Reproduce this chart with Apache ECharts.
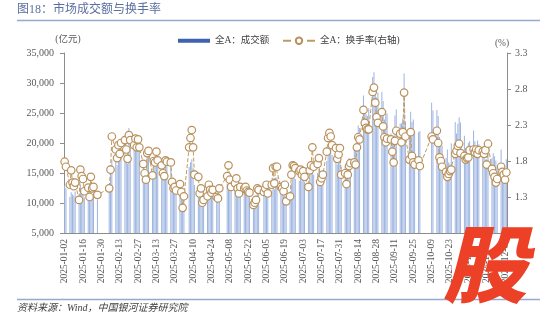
<!DOCTYPE html>
<html><head><meta charset="utf-8">
<script src="https://cdn.jsdelivr.net/npm/echarts@6/dist/echarts.min.js"></script>
<style>html,body{margin:0;padding:0;background:#fff}#c{width:550px;height:322px}</style>
</head><body><div id="c"></div>
<script>
// Non-trading weekdays (exchange holidays)
const holidays = ['01-01','01-28','01-29','01-30','01-31','02-03','02-04','04-04','05-01','05-02','05-05','06-02','10-01','10-02','10-03','10-06','10-07','10-08'];
const startDate = '2025-01-02';
const endDate = '2025-12-05';

// 全A成交额 (亿元), one value per trading day, month by month
const volume = [
  12900,12400,11000,11800,11400,11200,11900,9800,13100,12200,12000,10900,11300,10500,12300,11200,11600,10600,
  12600,15000,17200,17900,16300,18100,17300,19400,19800,17600,16500,22500,20500,19800,20600,19000,20500,19200,
  16300,15200,14400,17800,18600,15000,16800,16600,18000,16900,16200,15100,14700,17000,16700,16600,14000,13400,13500,13000,13800,
  12200,10200,11700,16000,16800,17300,15800,13000,12700,10900,11500,9900,10200,10600,11900,11300,11000,11300,10500,10400,11500,
  13200,14400,12800,12000,12400,12900,11800,11200,12000,11800,12000,11500,11400,11300,9900,10100,10500,11800,11600,
  11300,11700,12100,11200,12100,14100,12300,14200,14300,11900,11700,11300,12100,10200,10800,13300,14400,14300,14000,13700,
  14300,13700,14100,13500,12300,14200,14800,16900,14700,15000,15700,12900,13400,13800,17000,18800,19800,19200,18000,17700,16400,17000,19400,
  16000,16100,15100,16500,17500,17300,18900,19000,21700,22900,22500,27900,26000,24800,24500,25800,31000,31800,29500,27600,28400,
  28500,27000,23900,25400,24900,21600,21000,19800,24600,25600,23200,23300,24100,31600,23500,21500,25200,23500,23900,21700,21800,22000,
  26700,25400,25500,24500,21000,19600,19500,17500,18900,16800,16500,19900,23500,21600,23200,24300,23400,
  21200,19200,19200,20000,20300,22100,20300,19400,20400,19800,19400,19300,17200,17100,19800,17500,18300,17800,17100,15900,
  18900,16000,16700,15600,17300
];
// 全A换手率 (%), one value per trading day
const turnover = [
  1.79,1.72,1.47,1.67,1.50,1.45,1.50,1.26,1.68,1.59,1.55,1.38,1.43,1.30,1.58,1.42,1.44,1.33,
  1.42,1.68,2.14,1.96,1.84,2.02,1.90,2.05,2.09,1.96,1.83,2.16,2.09,2.02,2.11,1.99,2.10,1.99,
  1.76,1.63,1.54,1.91,1.94,1.60,1.80,1.78,1.93,1.81,1.74,1.63,1.59,1.81,1.79,1.78,1.51,1.42,1.44,1.39,1.48,
  1.37,1.15,1.31,1.99,2.12,2.23,1.99,1.61,1.58,1.35,1.42,1.22,1.26,1.31,1.47,1.40,1.36,1.40,1.30,1.28,1.42,
  1.59,1.74,1.54,1.44,1.49,1.56,1.42,1.35,1.44,1.42,1.44,1.39,1.37,1.36,1.19,1.22,1.26,1.42,1.40,
  1.37,1.42,1.47,1.35,1.47,1.70,1.49,1.72,1.72,1.44,1.42,1.38,1.47,1.24,1.31,1.61,1.74,1.73,1.70,1.66,
  1.68,1.61,1.66,1.58,1.44,1.67,1.74,1.99,1.72,1.76,1.84,1.51,1.56,1.61,1.93,2.12,2.19,2.14,2.02,1.98,1.83,1.89,1.98,
  1.61,1.63,1.48,1.61,1.73,1.77,1.78,1.75,1.99,2.13,2.10,2.51,2.33,2.26,2.24,2.24,2.76,2.82,2.61,2.41,2.33,
  2.48,2.28,2.13,2.06,2.11,2.10,1.93,1.78,2.08,2.22,2.18,2.06,2.20,2.75,2.14,1.82,2.20,1.87,1.78,1.75,1.81,1.73,
  2.14,2.10,2.22,2.05,1.85,1.80,1.72,1.65,1.58,1.62,1.66,1.68,1.90,1.94,2.01,2.04,1.91,
  1.87,1.82,1.84,1.85,1.95,1.96,1.92,1.96,1.90,1.95,1.93,1.90,1.95,1.75,2.04,1.69,1.63,1.58,1.50,1.55,
  1.72,1.65,1.61,1.54,1.64
];
const leftTicks = [5000, 35000, 5000];
const rightTicks = [0.8, 3.3, 0.5];

// calendar-day category axis
const categories = [];
const volData = [], turnData = [];
let ti = 0;
const d = new Date(startDate + 'T00:00:00Z');
const end = new Date(endDate + 'T00:00:00Z');
while (d <= end) {
  const iso = d.toISOString().slice(0, 10);
  const md = iso.slice(5);
  categories.push(iso);
  const wd = d.getUTCDay();
  if (wd !== 0 && wd !== 6 && holidays.indexOf(md) < 0 && ti < volume.length) {
    volData.push(volume[ti]); turnData.push(turnover[ti]); ti++;
  } else { volData.push(null); turnData.push(null); }
  d.setUTCDate(d.getUTCDate() + 1);
}

const serif = 'Liberation Serif, "Noto Sans CJK SC", serif';
const axisColor = '#8c8c8c';
const labelColor = '#595959';
const chart = echarts.init(document.getElementById('c'), null, {renderer: 'canvas'});
chart.setOption({
  animation: false,
  backgroundColor: '#fff',
  grid: {left: 64, right: 43, top: 53, bottom: 89},
  legend: [
    {data: [{name: '全A：成交额', icon: 'rect', itemStyle: {color: '#3d62ae'}}], left: 173, top: 31,
     itemWidth: 32, itemHeight: 4, itemGap: 5, textStyle: {fontFamily: serif, fontSize: 9.5, color: '#404040'}},
    {data: ['全A：换手率(右轴)'], left: 277, top: 31, itemWidth: 32, itemHeight: 8, itemGap: 5,
     textStyle: {fontFamily: serif, fontSize: 9.5, color: '#404040'}}
  ],
  xAxis: {
    type: 'category', data: categories, boundaryGap: true,
    axisLine: {lineStyle: {color: axisColor, width: 1}},
    axisTick: {alignWithLabel: true, interval: 13, length: 4, lineStyle: {color: axisColor}},
    axisLabel: {interval: 13, rotate: 90, margin: 6, fontSize: 9.5, fontFamily: serif, color: labelColor}
  },
  yAxis: [
    {type: 'value', min: leftTicks[0], max: leftTicks[1], interval: leftTicks[2], position: 'left',
     name: '(亿元)', nameLocation: 'end', nameGap: 9,
     nameTextStyle: {fontFamily: serif, fontSize: 9.5, color: labelColor, padding: [0, 0, 0, 8]},
     axisLine: {show: true, lineStyle: {color: axisColor}},
     axisTick: {show: true, length: 4, lineStyle: {color: axisColor}},
     splitLine: {show: false},
     axisLabel: {margin: 10, fontSize: 10, fontFamily: serif, color: labelColor,
       formatter: v => String(v).replace(/\B(?=(\d{3})+(?!\d))/g, ',')}},
    {type: 'value', min: rightTicks[0], max: rightTicks[1], interval: rightTicks[2], position: 'right',
     name: '(%)', nameLocation: 'end', nameGap: 4,
     nameTextStyle: {fontFamily: serif, fontSize: 9.5, color: labelColor, padding: [0, 10, 0, 0]},
     axisLine: {show: true, lineStyle: {color: axisColor}},
     axisTick: {show: true, length: 4, lineStyle: {color: axisColor}},
     splitLine: {show: false},
     axisLabel: {margin: 8, fontSize: 10, fontFamily: serif, color: labelColor,
       formatter: v => v.toFixed(1)}}
  ],
  series: [
    {name: '全A：成交额', type: 'bar', data: volData, barWidth: 1, barGap: '-100%',
     itemStyle: {color: '#9db4e0'}},
    {name: '全A：换手率(右轴)', type: 'line', yAxisIndex: 1, data: turnData, connectNulls: true,
     symbol: 'circle', symbolSize: 7.5, showAllSymbol: true,
     lineStyle: {color: '#c09a64', width: 1, type: 'dashed'},
     itemStyle: {color: '#ffffff', borderColor: '#b8915c', borderWidth: 1.2}}
  ],
  graphic: [
    {type: 'text', left: 17, top: 4, style: {text: '图18：市场成交额与换手率', font: '12px ' + serif, fill: '#5a6f9f'}},
    {type: 'line', shape: {x1: 17, y1: 20.5, x2: 540, y2: 20.5}, style: {stroke: '#98a9cf', lineWidth: 1.5}},
    {type: 'line', shape: {x1: 17, y1: 299.5, x2: 540, y2: 299.5}, style: {stroke: '#98a9cf', lineWidth: 1.5}},
    {type: 'text', left: 17, top: 303, style: {text: '资料来源：Wind，中国银河证券研究院', font: 'italic 10px ' + serif, fill: '#404040'}},
    {type: 'text', left: 443, top: 222, z: 100, style: {text: '股', font: 'italic 900 84px "Noto Sans CJK SC"', fill: '#ec4027'}}
  ]
});
</script></body></html>
